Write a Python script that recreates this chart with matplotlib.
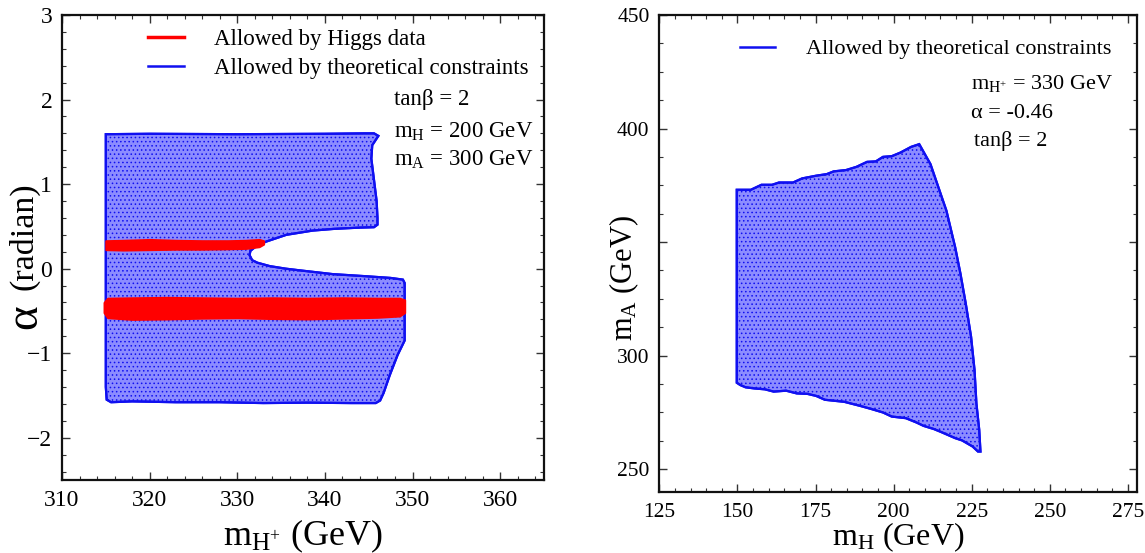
import matplotlib
matplotlib.use("Agg")
import matplotlib.pyplot as plt
from matplotlib.lines import Line2D
from matplotlib.ticker import MultipleLocator, FixedLocator, FixedFormatter

plt.rcParams["font.family"] = ["Liberation Serif", "DejaVu Serif"]
plt.rcParams["mathtext.fontset"] = "custom"
plt.rcParams["mathtext.rm"] = "Liberation Serif"
plt.rcParams["mathtext.it"] = "Liberation Serif:italic"
plt.rcParams["hatch.linewidth"] = 0.6

# ---- left panel: (m_H+, alpha) plane ----
theory_mhp = [315.0, 320, 330, 340, 344.5, 345.6, 346.1, 345.4, 345.3, 345.6, 345.9,
              346.0, 346.0, 345.6, 343.9, 341.0, 338.6, 335.6, 333.3, 332.2, 331.5,
              331.4, 331.7, 332.3, 333.7, 335.5, 337.1, 340.9, 344.7, 347.5, 348.9,
              349.1, 349.1, 349.1, 348.3, 347.4, 346.7, 346.3, 345.8, 343.0, 338.0,
              333.0, 328.0, 323.0, 318.0, 315.6, 315.1, 315.0]
theory_alpha = [1.59, 1.595, 1.59, 1.595, 1.60, 1.60, 1.57, 1.46, 1.30, 1.05, 0.80,
                0.60, 0.52, 0.49, 0.485, 0.47, 0.45, 0.40, 0.32, 0.27, 0.21,
                0.16, 0.10, 0.07, 0.03, 0.00, -0.02, -0.065, -0.09, -0.11, -0.13,
                -0.17, -0.50, -0.85, -1.02, -1.26, -1.47, -1.56, -1.59, -1.59, -1.585,
                -1.59, -1.58, -1.58, -1.57, -1.58, -1.55, -1.40]

higgs_upper_mhp = [315.0, 317.0, 320.0, 323.0, 326.0, 329.0, 331.0, 332.5, 333.0]
higgs_upper_top = [0.33, 0.335, 0.345, 0.335, 0.33, 0.33, 0.335, 0.345, 0.33]
higgs_upper_bot = [0.225, 0.22, 0.225, 0.23, 0.23, 0.235, 0.24, 0.26, 0.29]

higgs_lower_mhp = [314.8, 315.2, 318.0, 322.0, 326.0, 330.0, 334.0, 338.0, 342.0, 346.0, 348.5, 349.1]
higgs_lower_top = [-0.40, -0.35, -0.345, -0.34, -0.345, -0.35, -0.345, -0.35, -0.345, -0.35, -0.35, -0.37]
higgs_lower_bot = [-0.52, -0.58, -0.60, -0.595, -0.585, -0.58, -0.59, -0.595, -0.585, -0.575, -0.56, -0.52]

left_xticks = [310, 320, 330, 340, 350, 360]
left_yticks = [-2, -1, 0, 1, 2, 3]
left_notes = ["tan\u03b2 = 2", r"m$_{\rm H}$ = 200 GeV", r"m$_{\rm A}$ = 300 GeV"]

# ---- right panel: (m_H, m_A) plane ----
theory_mh = [149.8, 154.3, 157.7, 161.1, 163.3, 167.8, 170.7, 175.2, 178.6, 180.8, 184.8,
             188.1, 191.5, 194.3, 196.6, 199.4, 202.2, 205.6, 208.2,
             211.8, 216.9, 219.7, 221.4, 223.1, 224.8, 225.9, 226.5, 227.4, 227.8,
             227.0, 225.3, 221.9, 219.7, 215.2, 212.9, 209.6, 207.3, 203.9, 199.4,
             196.6, 192.7, 189.3, 184.2, 181.4, 178.0, 175.2, 172.4, 169.0, 165.6,
             161.6, 158.8, 155.4, 152.6, 150.9, 149.8]
theory_ma = [373.0, 373.0, 375.2, 375.2, 376.2, 376.2, 378.0, 379.2, 379.9, 381.1, 381.7,
             383.1, 385.3, 385.5, 387.5, 387.8, 389.4, 391.9, 393.1,
             384.3, 363.8, 347.7, 336.0, 322.8, 308.2, 293.6, 278.9, 267.3, 257.7,
             257.7, 259.9, 262.6, 263.6, 266.3, 267.6, 269.0, 270.5, 272.4, 273.1,
             274.9, 276.5, 277.8, 279.6, 280.0, 280.5, 282.2, 283.1, 283.3, 284.5,
             284.1, 285.1, 285.5, 286.0, 287.0, 288.0]

right_xticks = [125, 150, 175, 200, 225, 250, 275]
right_yticks = [250, 300, 350, 400, 450]
right_yticklabels = ["250", "300", "", "400", "450"]
right_notes = [r"m$_{\rm H^{+}}$ = 330 GeV", "\u03b1 = -0.46", "tan\u03b2 = 2"]

BLUE = "#1010f0"
FILL = "#8c8cff"
RED = "#ff0000"

fig = plt.figure(figsize=(11.45, 5.53), dpi=100)
W, H = 1145.0, 553.0
ax1 = fig.add_axes([62 / W, (H - 480) / H, (544 - 62) / W, (480 - 15) / H])
ax2 = fig.add_axes([659.3 / W, (H - 491.7) / H, (1137.3 - 659.3) / W, (491.7 - 15) / H])


def style_axes(ax, tick_size):
    for sp in ax.spines.values():
        sp.set_linewidth(1.6)
        sp.set_color("#111111")
    ax.tick_params(which="both", direction="in", top=True, right=True,
                   labelsize=tick_size, pad=7, color="#333333")
    ax.tick_params(which="major", length=6, width=1.0)
    ax.tick_params(which="minor", length=3, width=0.8)


# left panel
ax1.fill(theory_mhp, theory_alpha, facecolor=FILL, edgecolor=BLUE, linewidth=1.6,
         hatch="....", zorder=2)
ax1.fill(theory_mhp, theory_alpha, facecolor="none", edgecolor=BLUE, linewidth=1.6, zorder=3)
ax1.fill_between(higgs_upper_mhp, higgs_upper_bot, higgs_upper_top, color=RED,
                 linewidth=1.5, edgecolor=RED, zorder=4)
ax1.fill_between(higgs_lower_mhp, higgs_lower_bot, higgs_lower_top, color=RED,
                 linewidth=1.5, edgecolor=RED, zorder=4)
ax1.set_xlim(310, 365)
ax1.set_ylim(-2.5, 3)
ax1.xaxis.set_major_locator(FixedLocator(left_xticks))
ax1.xaxis.set_minor_locator(MultipleLocator(2))
ax1.yaxis.set_major_locator(FixedLocator(left_yticks))
ax1.yaxis.set_minor_locator(MultipleLocator(0.2))
style_axes(ax1, 17)
ax1.set_xlabel(r"m$_{\rm H^{+}}$ (GeV)", fontsize=26, labelpad=5)
# y label: large alpha followed by the unit
ax1.text(-0.079, 0.525, "(radian)", transform=ax1.transAxes, rotation=90,
         fontsize=24.5, ha="center", va="center")
ax1.text(-0.077, 0.352, "\u03b1", transform=ax1.transAxes, rotation=90,
         fontsize=34, ha="center", va="center")

h1 = [Line2D([], [], color=RED, lw=2.5), Line2D([], [], color=BLUE, lw=1.8)]
ax1.legend(h1, ["Allowed by Higgs data", "Allowed by theoretical constraints"],
           loc="upper left", bbox_to_anchor=(0.178, 0.97), frameon=False,
           fontsize=16.5, handlelength=1.6, handletextpad=1.3, labelspacing=0.33,
           borderpad=0, borderaxespad=0)
for txt, yf in zip(left_notes, [0.818, 0.748, 0.688]):
    ax1.text(0.688, yf, txt, transform=ax1.transAxes, fontsize=16.5, va="center", ha="left")

# right panel
ax2.fill(theory_mh, theory_ma, facecolor=FILL, edgecolor=BLUE, linewidth=1.6,
         hatch="....", zorder=2)
ax2.fill(theory_mh, theory_ma, facecolor="none", edgecolor=BLUE, linewidth=1.6, zorder=3)
ax2.set_xlim(125, 278)
ax2.set_ylim(240, 450)
ax2.xaxis.set_major_locator(FixedLocator(right_xticks))
ax2.xaxis.set_minor_locator(MultipleLocator(5))
ax2.yaxis.set_major_locator(FixedLocator(right_yticks))
ax2.yaxis.set_major_formatter(FixedFormatter(right_yticklabels))
ax2.yaxis.set_minor_locator(MultipleLocator(12.5))
style_axes(ax2, 15.5)
ax2.tick_params(axis="x", pad=8)
ax2.set_xlabel(r"m$_{\rm H}$ (GeV)", fontsize=23, labelpad=-1)
ax2.set_ylabel(r"m$_{\rm A}$ (GeV)", fontsize=22)
ax2.yaxis.set_label_coords(-0.038, 0.448)

h2 = [Line2D([], [], color=BLUE, lw=1.8)]
ax2.legend(h2, ["Allowed by theoretical constraints"], loc="upper left",
           bbox_to_anchor=(0.168, 0.95), frameon=False, fontsize=16,
           handlelength=1.6, handletextpad=1.4, borderpad=0, borderaxespad=0)
for txt, xf, yf in zip(right_notes, [0.652, 0.652, 0.658], [0.856, 0.794, 0.735]):
    ax2.text(xf, yf, txt, transform=ax2.transAxes, fontsize=16, va="center", ha="left")

fig.savefig("out.png", dpi=100)
